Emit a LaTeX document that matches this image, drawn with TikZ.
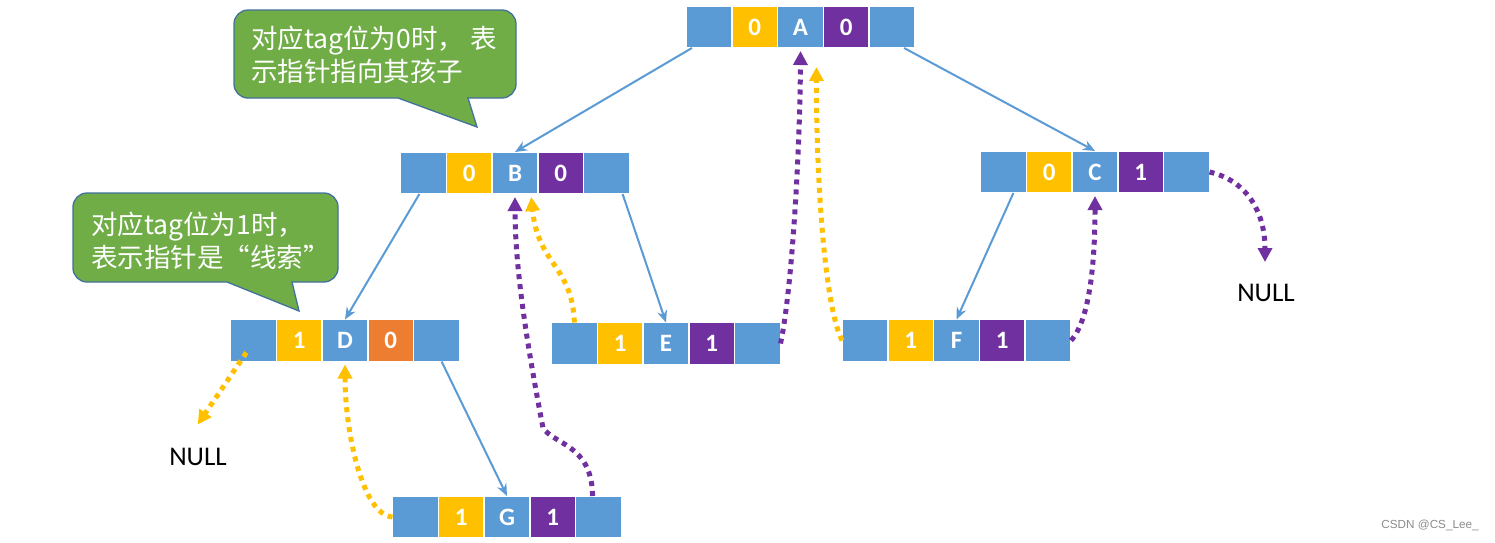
\documentclass[tikz,border=0pt]{standalone}
\usepackage{fontspec}
\setmainfont{Carlito}
\newfontfamily\cjk{Noto Sans CJK SC}
\newfontfamily\markfont{Liberation Sans}
\usetikzlibrary{arrows.meta}
\usetikzlibrary{positioning}

\definecolor{cellblue}{HTML}{5B9BD5}
\definecolor{cellyellow}{HTML}{FFC000}
\definecolor{cellpurple}{HTML}{7030A0}
\definecolor{cellorange}{HTML}{ED7D31}
\definecolor{notegreen}{HTML}{70AD47}
\definecolor{noteedge}{HTML}{41719C}

\tikzset{
  cell/.style={draw=white, line width=1.5pt, minimum width=45.8pt, minimum height=42pt,
    inner sep=0pt, outer sep=0pt, text=white, font=\fontsize{25}{29}\selectfont\bfseries},
  branch/.style={draw=cellblue, line width=2pt, -{Stealth[length=12pt,width=10pt]}},
  thread/.style={line width=5pt, dash pattern=on 5pt off 5pt, shorten >=3pt,
    -{Triangle[length=14pt,width=14pt]}},
  callout/.style={fill=notegreen, draw=noteedge, line width=1.3pt},
  tipnote/.style={text=white, align=left, inner sep=0pt, font=\cjk\fontsize{26.5}{33}\selectfont},
  nulltext/.style={inner sep=0pt, font=\fontsize{27}{32}\selectfont}
}

% one threaded node: name, place of data cell, ltag, data, rtag, rtag colour
\newcommand{\listnode}[6]{%
  \node[cell, fill=cellblue] (#1) at (#2) {#4};
  \node[cell, fill=cellyellow, left=0pt of #1] (#1-lt) {#3};
  \node[cell, fill=cellblue, left=0pt of #1-lt] (#1-l) {};
  \node[cell, fill=#6, right=0pt of #1] (#1-rt) {#5};
  \node[cell, fill=cellblue, right=0pt of #1-rt] (#1-r) {};
}

\begin{document}
\begin{tikzpicture}[x=1pt, y=-1pt]
  % Canvas
  \fill[white] (0,0) rectangle (1495,542);
  \useasboundingbox (0,0) rectangle (1495,542);

  % Callouts
  \draw[callout] (398,98) -- (477,127) -- (468,98) -- (490,98) [rounded corners=14pt]
    -- (516,98) -- (516,10) -- (234,10) -- (234,98) -- (260,98) [sharp corners] -- cycle;
  \node[tipnote, anchor=west] (note0) at (251,55) {对应tag位为0时，\hspace{6pt}表\\示指针指向其孩子};
  \draw[callout] (227,282) -- (299,311) -- (292,282) -- (310,282) [rounded corners=14pt]
    -- (338,282) -- (338,193) -- (73,193) -- (73,282) -- (100,282) [sharp corners] -- cycle;
  \node[tipnote, anchor=west] (note1) at (91,241) {对应tag位为1时，\\表示指针是“线索”};

  % Nodes
  \listnode{A}{800.5,27}{0}{A}{0}{cellpurple}
  \listnode{B}{515,173}{0}{B}{0}{cellpurple}
  \listnode{C}{1095,172}{0}{C}{1}{cellpurple}
  \listnode{D}{345,340.5}{1}{D}{0}{cellorange}
  \listnode{E}{666,343.5}{1}{E}{1}{cellpurple}
  \listnode{F}{956.5,340.5}{1}{F}{1}{cellpurple}
  \listnode{G}{507,517}{1}{G}{1}{cellpurple}

  % NULL
  \node[nulltext] (null0) at (198,457) {NULL};
  \node[nulltext] (null1) at (1266,293) {NULL};
  \coordinate (null0tip) at (196,427);
  \coordinate (null1tip) at (1265,265);

  % Child pointers
  \draw[branch] ([xshift=-17pt]A-l.south) -- (B.north);
  \draw[branch] ([xshift=12pt]A-r.south) -- (C.north);
  \draw[branch] ([xshift=-4pt]B-l.south) -- (D.north);
  \draw[branch] ([xshift=16pt]B-r.south) -- (E.north);
  \draw[branch] ([xshift=10pt]C-l.south) -- (F.north);
  \draw[branch] ([xshift=5pt]D-r.south) -- (G.north);

  % Threads
  \draw[thread, cellyellow] ([shift={(-7,12)}]D-l.center) -- (null0tip);
  \draw[thread, cellyellow] (G-l.west) .. controls (362,515) and (345,430) .. (D.south);
  \draw[thread, cellpurple] ([xshift=-6pt]G-r.north) .. controls (592,445) and (555,445) .. (543,428)
    .. controls (533,375) and (515,280) .. (B.south);
  \draw[thread, cellyellow] (E-l.north) .. controls (572,265) and (538,265) .. ([xshift=16pt]B.south);
  \draw[thread, cellpurple] (E-r.east) .. controls (792,290) and (800,150) .. (A.south);
  \draw[thread, cellyellow] (F-l.west) .. controls (822,300) and (816,150) .. ([shift={(16,16)}]A.south);
  \draw[thread, cellpurple] (F-r.east) .. controls (1090,320) and (1095,260) .. (C.south);
  \draw[thread, cellpurple] (C-r.east) .. controls (1245,180) and (1265,210) .. (null1tip);

  % Watermark
  \node[font=\markfont\fontsize{11.7}{14}\selectfont, text=black!45] (mark) at (1430,525) {CSDN @CS\_Lee\_};
\end{tikzpicture}
\end{document}
